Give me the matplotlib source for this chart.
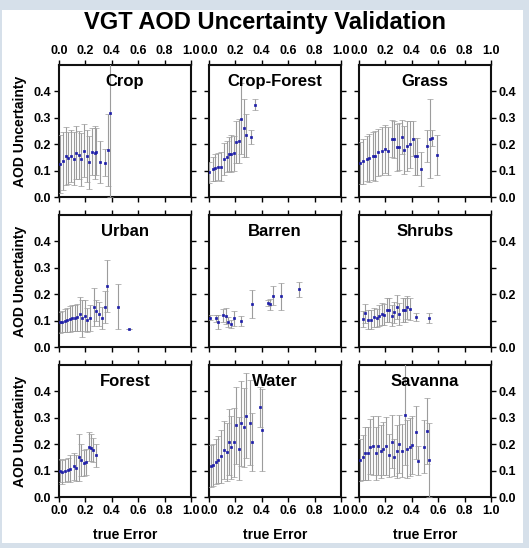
#!/usr/bin/env python3
"""VGT AOD uncertainty validation: 3x3 panels of uncertainty vs. true error."""
import matplotlib
matplotlib.use("Agg")
import matplotlib.pyplot as plt
from matplotlib.patches import Rectangle

plt.rcParams["font.family"] = ["Liberation Sans", "DejaVu Sans"]
plt.rcParams["font.weight"] = "bold"

# ---- data ----
crop_x = [0.01, 0.03, 0.05, 0.07, 0.09, 0.11, 0.13, 0.15, 0.17, 0.19, 0.21, 0.23,
          0.25, 0.27, 0.28, 0.31, 0.35, 0.37, 0.39]
crop_y = [0.125, 0.135, 0.155, 0.148, 0.155, 0.145, 0.168, 0.16, 0.143, 0.175, 0.155,
          0.132, 0.172, 0.168, 0.172, 0.132, 0.13, 0.178, 0.32]
crop_err = [0.11, 0.11, 0.11, 0.1, 0.1, 0.1, 0.1, 0.09, 0.1, 0.1, 0.1, 0.1, 0.09, 0.1,
            0.09, 0.08, 0.05, 0.135, 0.32]

cropforest_x = [0.0, 0.028, 0.045, 0.07, 0.088, 0.113, 0.133, 0.153, 0.17, 0.19, 0.208,
                0.228, 0.246, 0.266, 0.283, 0.32, 0.346]
cropforest_y = [0.093, 0.105, 0.111, 0.115, 0.115, 0.143, 0.153, 0.162, 0.164, 0.165,
                0.208, 0.212, 0.296, 0.262, 0.233, 0.227, 0.35]
cropforest_err = [0.04, 0.045, 0.05, 0.05, 0.055, 0.06, 0.06, 0.065, 0.07, 0.065, 0.08,
                  0.085, 0.135, 0.11, 0.08, 0.025, 0.02]

grass_x = [0.008, 0.033, 0.058, 0.078, 0.109, 0.12, 0.146, 0.172, 0.197, 0.222, 0.247,
           0.265, 0.285, 0.305, 0.328, 0.343, 0.366, 0.386, 0.407, 0.424, 0.44, 0.47,
           0.513, 0.538, 0.55, 0.588]
grass_y = [0.129, 0.135, 0.145, 0.148, 0.156, 0.154, 0.169, 0.175, 0.181, 0.175, 0.221,
           0.219, 0.188, 0.191, 0.226, 0.178, 0.194, 0.199, 0.221, 0.154, 0.154, 0.106,
           0.194, 0.221, 0.225, 0.16]
grass_err = [0.08, 0.085, 0.085, 0.09, 0.09, 0.095, 0.09, 0.09, 0.09, 0.09, 0.07, 0.07,
             0.09, 0.09, 0.065, 0.09, 0.095, 0.09, 0.065, 0.07, 0.07, 0.065, 0.06, 0.15,
             0.03, 0.075]

urban_x = [0.005, 0.025, 0.043, 0.063, 0.081, 0.10, 0.12, 0.137, 0.157, 0.178, 0.195,
           0.213, 0.233, 0.264, 0.284, 0.305, 0.325, 0.348, 0.365, 0.449, 0.533]
urban_y = [0.094, 0.096, 0.1, 0.1025, 0.106, 0.109, 0.11, 0.1125, 0.125, 0.109, 0.119,
           0.1025, 0.11, 0.1525, 0.1375, 0.125, 0.11, 0.1525, 0.231, 0.1525, 0.069]
urban_err = [0.04, 0.04, 0.045, 0.045, 0.05, 0.05, 0.05, 0.05, 0.065, 0.07, 0.06, 0.045,
             0.05, 0.072, 0.04, 0.045, 0.04, 0.06, 0.1, 0.085, 0.0]

barren_x = [0.008, 0.05, 0.07, 0.108, 0.128, 0.145, 0.163, 0.188, 0.245, 0.326, 0.446,
            0.464, 0.484, 0.546, 0.684]
barren_y = [0.111, 0.108, 0.095, 0.12, 0.116, 0.095, 0.086, 0.108, 0.099, 0.164, 0.167,
            0.162, 0.195, 0.192, 0.218]
barren_err = [0.01, 0.015, 0.025, 0.025, 0.03, 0.02, 0.015, 0.03, 0.02, 0.053, 0.01,
              0.02, 0.035, 0.05, 0.028]

shrubs_x = [0.028, 0.048, 0.071, 0.088, 0.114, 0.134, 0.154, 0.172, 0.189, 0.21, 0.23,
            0.247, 0.265, 0.285, 0.306, 0.331, 0.348, 0.366, 0.386, 0.429, 0.53]
shrubs_y = [0.106, 0.1275, 0.104, 0.104, 0.1125, 0.11, 0.119, 0.125, 0.1225, 0.14, 0.14,
            0.119, 0.131, 0.1525, 0.125, 0.14, 0.14, 0.15, 0.144, 0.115, 0.11]
shrubs_err = [0.03, 0.037, 0.035, 0.035, 0.035, 0.035, 0.04, 0.04, 0.04, 0.045, 0.045,
              0.04, 0.04, 0.045, 0.04, 0.045, 0.045, 0.045, 0.04, 0.015, 0.02]

forest_x = [0.005, 0.025, 0.043, 0.069, 0.086, 0.112, 0.132, 0.152, 0.17, 0.188, 0.203,
            0.228, 0.246, 0.259, 0.277]
forest_y = [0.1, 0.095, 0.1, 0.104, 0.1075, 0.116, 0.11, 0.15, 0.141, 0.129, 0.1325,
            0.191, 0.1875, 0.179, 0.1575]
forest_err = [0.045, 0.045, 0.045, 0.045, 0.05, 0.05, 0.05, 0.09, 0.06, 0.05, 0.05,
              0.055, 0.05, 0.045, 0.045]

water_x = [0.013, 0.033, 0.053, 0.07, 0.09, 0.113, 0.133, 0.153, 0.17, 0.19, 0.208,
           0.228, 0.246, 0.266, 0.283, 0.308, 0.326, 0.383, 0.403]
water_y = [0.1165, 0.12, 0.133, 0.142, 0.154, 0.179, 0.17, 0.21, 0.188, 0.207, 0.271,
           0.183, 0.279, 0.264, 0.308, 0.282, 0.207, 0.34, 0.254]
water_err = [0.08, 0.08, 0.085, 0.09, 0.1, 0.11, 0.11, 0.125, 0.12, 0.13, 0.145, 0.12,
             0.16, 0.15, 0.16, 0.16, 0.11, 0.075, 0.155]

savanna_x = [0.008, 0.028, 0.045, 0.066, 0.083, 0.109, 0.126, 0.146, 0.164, 0.184, 0.202,
             0.23, 0.247, 0.268, 0.285, 0.306, 0.328, 0.348, 0.366, 0.386, 0.404, 0.429,
             0.449, 0.492, 0.513, 0.533]
savanna_y = [0.141, 0.15, 0.166, 0.166, 0.191, 0.195, 0.166, 0.195, 0.1725, 0.1825,
             0.194, 0.1575, 0.21, 0.15, 0.1725, 0.2, 0.175, 0.3125, 0.181, 0.191, 0.1975,
             0.245, 0.1375, 0.191, 0.25, 0.141]
savanna_err = [0.08, 0.085, 0.1, 0.1, 0.105, 0.11, 0.1, 0.11, 0.1, 0.1, 0.11, 0.08, 0.1,
               0.07, 0.1, 0.11, 0.1, 0.19, 0.11, 0.11, 0.11, 0.1, 0.055, 0.1, 0.125, 0.14]

panel_names = ["Crop", "Crop-Forest", "Grass", "Urban", "Barren", "Shrubs",
               "Forest", "Water", "Savanna"]
panel_data = [(crop_x, crop_y, crop_err), (cropforest_x, cropforest_y, cropforest_err),
              (grass_x, grass_y, grass_err), (urban_x, urban_y, urban_err),
              (barren_x, barren_y, barren_err), (shrubs_x, shrubs_y, shrubs_err),
              (forest_x, forest_y, forest_err), (water_x, water_y, water_err),
              (savanna_x, savanna_y, savanna_err)]

x_ticks = [0.0, 0.2, 0.4, 0.6, 0.8, 1.0]
y_ticks = [0.0, 0.1, 0.2, 0.3, 0.4]

W, H = 529, 548
fig = plt.figure(figsize=(W / 100, H / 100), dpi=100, facecolor="#d6e0ea")
fig.patches.append(Rectangle((2 / W, 5 / H), 521 / W, 533 / H, transform=fig.transFigure,
                             facecolor="white", edgecolor="none", zorder=-10))

col_left = [59, 209, 359]
row_top = [65, 215, 365]
aw, ah = 132, 132

for i, (name, (xs, ys, es)) in enumerate(zip(panel_names, panel_data)):
    r, c = divmod(i, 3)
    ax = fig.add_axes([col_left[c] / W, 1 - (row_top[r] + ah) / H, aw / W, ah / H])
    ax.errorbar(xs, ys, yerr=es, fmt="s", ms=2.0, mew=0.5, color="#1c1ca8",
                mec="#1c1ca8", ecolor="#9c9c9c", elinewidth=0.8, capsize=2.2,
                capthick=0.8, zorder=3)
    ax.set_xlim(0, 1)
    ax.set_ylim(0, 0.5)
    ax.set_xticks(x_ticks)
    ax.set_yticks(y_ticks)
    ax.text(0.5, 0.93, name, transform=ax.transAxes, ha="center", va="top",
            fontsize=12, fontweight="bold")
    for s in ax.spines.values():
        s.set_linewidth(1.5)
        s.set_color("#111111")
    ax.tick_params(direction="out", length=3.5, width=1.0, top=True, right=True,
                   labelsize=9, pad=2,
                   labeltop=(r == 0), labelbottom=(r == 2),
                   labelleft=(c == 0), labelright=(c == 2))
    ax.xaxis.set_major_formatter(matplotlib.ticker.FormatStrFormatter("%.1f"))
    if r == 1 and c == 2:
        ax.set_yticklabels(["0.0", "", "0.2", "", "0.4"])
    else:
        ax.yaxis.set_major_formatter(matplotlib.ticker.FormatStrFormatter("%.1f"))
    for lab in ax.get_xticklabels() + ax.get_yticklabels():
        lab.set_fontweight("bold")
    if c == 0:
        ax.set_ylabel("AOD Uncertainty", fontsize=10, fontweight="bold", labelpad=5)
    if r == 2:
        ax.set_xlabel("true Error", fontsize=10, fontweight="bold", labelpad=8)

fig.text(0.5, 1 - 22 / H, "VGT AOD Uncertainty Validation", ha="center", va="center",
         fontsize=17, fontweight="bold")

fig.savefig("out.png", dpi=100, facecolor=fig.get_facecolor())
